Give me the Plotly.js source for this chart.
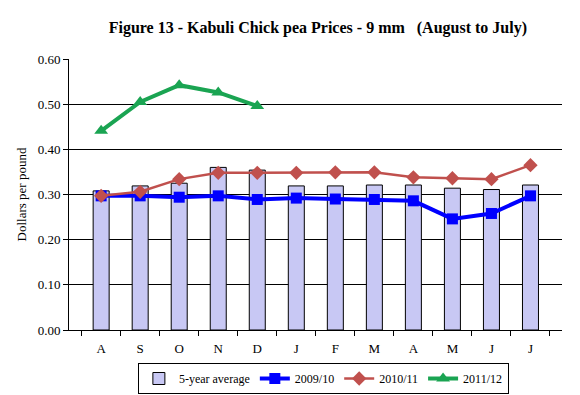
<!DOCTYPE html>
<html><head><meta charset="utf-8">
<script src="https://cdn.plot.ly/plotly-3.0.1.min.js"></script>
<style>html,body{margin:0;padding:0;background:#fff}#chart{width:580px;height:395px}</style>
</head><body><div id="chart"></div>
<script>
const months = ["A","S","O","N","D","J","F","M","A ","M ","J ","J  "];
const monthLabels = ["A","S","O","N","D","J","F","M","A","M","J","J"];
const avg5 = [0.308,0.319,0.325,0.360,0.354,0.319,0.319,0.321,0.321,0.314,0.311,0.321];
const y0910 = [0.297,0.297,0.294,0.297,0.289,0.292,0.290,0.289,0.286,0.246,0.258,0.297];
const y1011 = [0.297,0.306,0.334,0.348,0.348,0.348,0.349,0.349,0.338,0.336,0.334,0.365];
const y1112 = [0.441,0.505,0.542,0.526,0.496];
const serif = "Liberation Serif";
const data = [
 {type:"bar", name:"5-year average", x:months, y:avg5, width:0.41,
  marker:{color:"#C8C8F4", line:{color:"#000", width:1}}},
 {type:"scatter", mode:"lines+markers", name:"2009/10", x:months, y:y0910,
  line:{color:"#0000FF", width:4}, marker:{symbol:"square", size:11, color:"#0000FF"}},
 {type:"scatter", mode:"lines+markers", name:"2010/11", x:months, y:y1011,
  line:{color:"#C0504D", width:2.5}, marker:{symbol:"diamond", size:11, color:"#C0504D"}},
 {type:"scatter", mode:"lines+markers", name:"2011/12", x:months.slice(0,y1112.length), y:y1112,
  line:{color:"#1AA452", width:4}, marker:{symbol:"triangle-up", size:12, color:"#1AA452"}}
];
const layout = {
 width:580, height:395,
 margin:{l:69, r:18, t:59, b:65, autoexpand:false},
 paper_bgcolor:"#fff", plot_bgcolor:"#fff",
 font:{family:serif, size:12, color:"#000"},
 title:{text:"<b>Figure 13 - Kabuli Chick pea Prices - 9 mm   (August to July)</b>",
  x:0.548, xanchor:"center", y:0.93, yanchor:"middle", font:{family:serif, size:16, color:"#000"}},
 xaxis:{type:"category", tickvals:months, ticktext:monthLabels, tickson:"boundaries",
  ticks:"outside", ticklen:5, tickcolor:"#000", showline:true, linecolor:"#000", linewidth:1,
  ticklabelstandoff:6,
  showgrid:false, tickfont:{family:serif, size:13, color:"#000"}, fixedrange:true},
 yaxis:{range:[0,0.6], dtick:0.1, tickformat:".2f", ticks:"outside", ticklen:5, tickcolor:"#000",
  showline:true, linecolor:"#000", linewidth:1, gridcolor:"#000", gridwidth:1, zeroline:false,
  tickfont:{family:serif, size:13, color:"#000"},
  title:{text:"Dollars per pound", font:{family:serif, size:13, color:"#000"}, standoff:8}},
 legend:{orientation:"h", x:0.516, xanchor:"center", y:-0.179, yanchor:"middle",
  bordercolor:"#000", borderwidth:1, font:{family:serif, size:12, color:"#000"},
  itemwidth:30, tracegroupgap:0, bgcolor:"#fff"},
 bargap:0.59, showlegend:true
};
Plotly.newPlot("chart", data, layout, {displayModeBar:false, staticPlot:true});
</script></body></html>
